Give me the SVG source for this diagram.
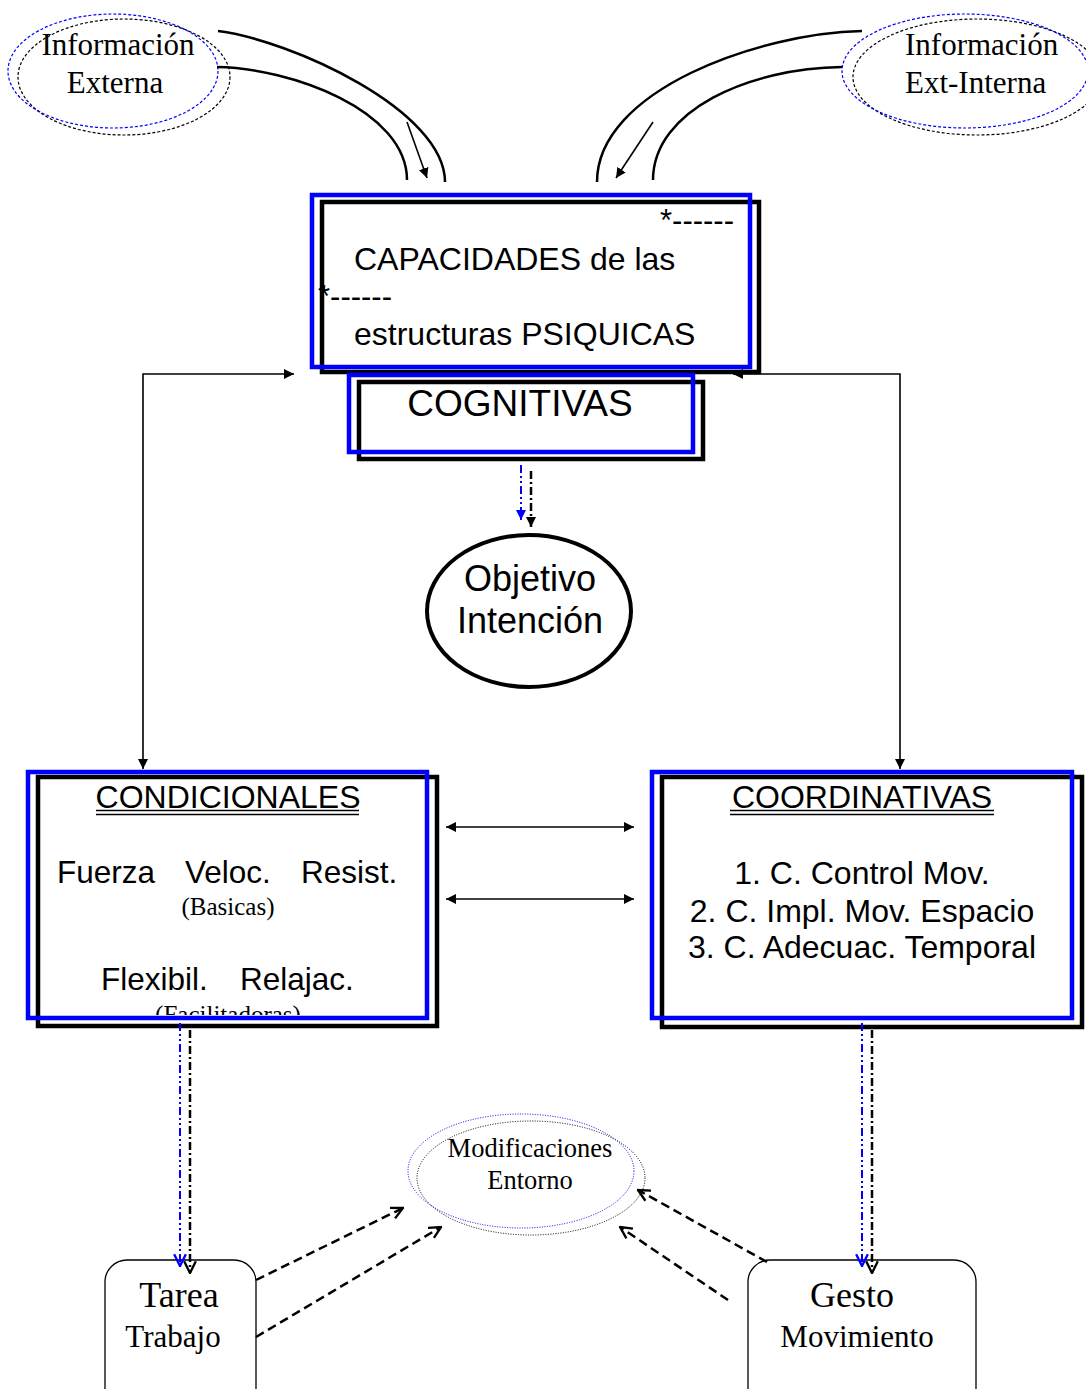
<svg xmlns="http://www.w3.org/2000/svg" width="1086" height="1389" viewBox="0 0 1086 1389">
<style>
.sans{font-family:"Liberation Sans",Arial,sans-serif;fill:#000}
.serif{font-family:"Liberation Serif","Times New Roman",serif;fill:#000}
.blk{fill:none;stroke:#000;stroke-width:4.5}
.blu{fill:none;stroke:#0000ff;stroke-width:4.5}
.curve{fill:none;stroke:#000;stroke-width:2.5}
.thin{fill:none;stroke:#000;stroke-width:1.6}
.dash{fill:none;stroke:#000;stroke-width:2.5;stroke-dasharray:9 5}
.ddb{fill:none;stroke:#0000ff;stroke-width:2;stroke-dasharray:8 3 2 3 2 3}
.ddk{fill:none;stroke:#000;stroke-width:2.5;stroke-dasharray:8 3 2 3}
.round{fill:#fff;stroke:#000;stroke-width:1.3}
</style>
<defs>
<marker id="tri" viewBox="0 0 10 10" refX="10" refY="5" markerWidth="10" markerHeight="10" markerUnits="userSpaceOnUse" orient="auto-start-reverse"><path d="M0,0 L10,5 L0,10 z" fill="#000"/></marker>
<marker id="triB" viewBox="0 0 10 10" refX="10" refY="5" markerWidth="10" markerHeight="10" markerUnits="userSpaceOnUse" orient="auto"><path d="M0,0 L10,5 L0,10 z" fill="#0000ff"/></marker>
<marker id="vK" viewBox="0 0 12 12" refX="11" refY="6" markerWidth="14" markerHeight="14" markerUnits="userSpaceOnUse" orient="auto"><path d="M1,1 L11,6 L1,11" fill="none" stroke="#000" stroke-width="2"/></marker>
<marker id="vB" viewBox="0 0 12 12" refX="11" refY="6" markerWidth="14" markerHeight="14" markerUnits="userSpaceOnUse" orient="auto"><path d="M1,1 L11,6 L1,11" fill="none" stroke="#0000ff" stroke-width="2"/></marker>
<clipPath id="clipCond"><rect x="30" y="770" width="400" height="245"/></clipPath>
</defs>
<rect width="1086" height="1389" fill="#fff"/>

<g id="info-externa">
<ellipse cx="124" cy="77" rx="106" ry="58" fill="none" stroke="#000" stroke-width="1.2" stroke-dasharray="3 2"/>
<ellipse cx="113" cy="71" rx="105" ry="57" fill="none" stroke="#0000ff" stroke-width="1.2" stroke-dasharray="3 2"/>
<text class="serif" font-size="31" x="118" y="55" text-anchor="middle">Información</text>
<text class="serif" font-size="31" x="115" y="93" text-anchor="middle">Externa</text>
</g>

<g id="info-ext-interna">
<ellipse cx="977" cy="77" rx="124" ry="58" fill="none" stroke="#000" stroke-width="1.2" stroke-dasharray="3 2"/>
<ellipse cx="965" cy="71" rx="123" ry="57" fill="none" stroke="#0000ff" stroke-width="1.2" stroke-dasharray="3 2"/>
<text class="serif" font-size="31" x="905" y="55">Información</text>
<text class="serif" font-size="31" x="905" y="93">Ext-Interna</text>
</g>

<g id="capacidades">
<rect class="blk" x="322" y="202" width="437" height="170"/>
<rect class="blu" x="312" y="195" width="438" height="172"/>
<text class="sans" font-size="31" x="660" y="231">*------</text>
<text class="sans" font-size="32" x="354" y="270">CAPACIDADES de las</text>
<text class="sans" font-size="31" x="318" y="307">*------</text>
<text class="sans" font-size="32" x="354" y="345">estructuras PSIQUICAS</text>
</g>

<g id="cognitivas">
<rect class="blk" x="359" y="382" width="344" height="77"/>
<rect class="blu" x="349" y="375" width="344" height="77"/>
<text class="sans" font-size="37" x="520" y="416" text-anchor="middle">COGNITIVAS</text>
</g>

<g id="objetivo">
<ellipse cx="529" cy="611" rx="102" ry="76" fill="#fff" stroke="#000" stroke-width="4"/>
<text class="sans" font-size="36" x="530" y="591" text-anchor="middle">Objetivo</text>
<text class="sans" font-size="36" x="530" y="633" text-anchor="middle">Intención</text>
</g>

<g id="condicionales">
<rect class="blk" x="38" y="777" width="399" height="249"/>
<text class="sans" font-size="32" x="228" y="808" text-anchor="middle">CONDICIONALES</text>
<line x1="96" y1="810.5" x2="359" y2="810.5" stroke="#000" stroke-width="1.5"/>
<line x1="96" y1="814.5" x2="359" y2="814.5" stroke="#000" stroke-width="1.5"/>
<text class="sans" font-size="31.5" x="57" y="883">Fuerza</text>
<text class="sans" font-size="31.5" x="185" y="883">Veloc.</text>
<text class="sans" font-size="31.5" x="301" y="883">Resist.</text>
<text class="serif" font-size="25" x="228" y="915" text-anchor="middle">(Basicas)</text>
<text class="sans" font-size="31.5" x="101" y="990">Flexibil.</text>
<text class="sans" font-size="31.5" x="240" y="990">Relajac.</text>
<text class="serif" font-size="25" x="228" y="1023" text-anchor="middle" clip-path="url(#clipCond)">(Facilitadoras)</text>
<rect class="blu" x="28" y="772" width="399" height="246"/>
</g>

<g id="coordinativas">
<rect class="blk" x="662" y="777" width="420" height="250"/>
<rect class="blu" x="652" y="772" width="420" height="246"/>
<text class="sans" font-size="32" x="862" y="808" text-anchor="middle">COORDINATIVAS</text>
<line x1="730" y1="810.5" x2="994" y2="810.5" stroke="#000" stroke-width="1.5"/>
<line x1="730" y1="814.5" x2="994" y2="814.5" stroke="#000" stroke-width="1.5"/>
<text class="sans" font-size="32" x="862" y="884" text-anchor="middle">1. C. Control Mov.</text>
<text class="sans" font-size="32" x="862" y="922" text-anchor="middle">2. C. Impl. Mov. Espacio</text>
<text class="sans" font-size="32" x="862" y="958" text-anchor="middle">3. C. Adecuac. Temporal</text>
</g>

<g id="modificaciones">
<ellipse cx="531" cy="1178" rx="114" ry="57" fill="none" stroke="#000" stroke-width="1" stroke-dasharray="1 1.5"/>
<ellipse cx="521" cy="1171" rx="113" ry="57" fill="none" stroke="#0000ff" stroke-width="1" stroke-dasharray="1 1.5"/>
<text class="serif" font-size="26.5" x="530" y="1157" text-anchor="middle">Modificaciones</text>
<text class="serif" font-size="26.5" x="530" y="1189" text-anchor="middle">Entorno</text>
</g>

<g id="tarea">
<rect class="round" x="105" y="1260" width="151" height="150" rx="22"/>
<text class="serif" font-size="36" x="179" y="1307" text-anchor="middle">Tarea</text>
<text class="serif" font-size="31" x="173" y="1347" text-anchor="middle">Trabajo</text>
</g>

<g id="gesto">
<rect class="round" x="748" y="1260" width="228" height="150" rx="22"/>
<text class="serif" font-size="36" x="852" y="1307" text-anchor="middle">Gesto</text>
<text class="serif" font-size="31" x="857" y="1347" text-anchor="middle">Movimiento</text>
</g>

<g id="connectors">
<path class="curve" d="M218,31 C290,40 445,110 445,182"/>
<path class="curve" d="M217,67 C290,68 407,110 407,180"/>
<line class="thin" x1="407" y1="122" x2="427" y2="178" marker-end="url(#tri)"/>
<path class="curve" d="M862,31 C760,33 597,90 597,182"/>
<path class="curve" d="M842,67 C750,68 653,110 653,180"/>
<line class="thin" x1="653" y1="122" x2="616" y2="178" marker-end="url(#tri)"/>
<polyline class="thin" points="143,769 143,374 294,374" marker-start="url(#tri)" marker-end="url(#tri)"/>
<polyline class="thin" points="900,769 900,374 733,374" marker-start="url(#tri)" marker-end="url(#tri)"/>
<line class="ddb" x1="521" y1="465" x2="521" y2="520" marker-end="url(#triB)"/>
<line class="ddk" x1="531" y1="471" x2="531" y2="527" marker-end="url(#tri)"/>
<line class="thin" stroke-width="2" x1="446" y1="827" x2="634" y2="827" marker-start="url(#tri)" marker-end="url(#tri)"/>
<line class="thin" stroke-width="2" x1="446" y1="899" x2="634" y2="899" marker-start="url(#tri)" marker-end="url(#tri)"/>
<line class="ddb" x1="180" y1="1023" x2="180" y2="1266" marker-end="url(#vB)"/>
<line class="ddk" x1="190" y1="1030" x2="190" y2="1273" marker-end="url(#vK)"/>
<line class="ddb" x1="862" y1="1023" x2="862" y2="1266" marker-end="url(#vB)"/>
<line class="ddk" x1="872" y1="1030" x2="872" y2="1273" marker-end="url(#vK)"/>
<line class="dash" x1="256" y1="1280" x2="403" y2="1208" marker-end="url(#vK)"/>
<line class="dash" x1="256" y1="1337" x2="441" y2="1227" marker-end="url(#vK)"/>
<line class="dash" x1="767" y1="1262" x2="638" y2="1190" marker-end="url(#vK)"/>
<line class="dash" x1="728" y1="1300" x2="620" y2="1227" marker-end="url(#vK)"/>
</g>
</svg>
